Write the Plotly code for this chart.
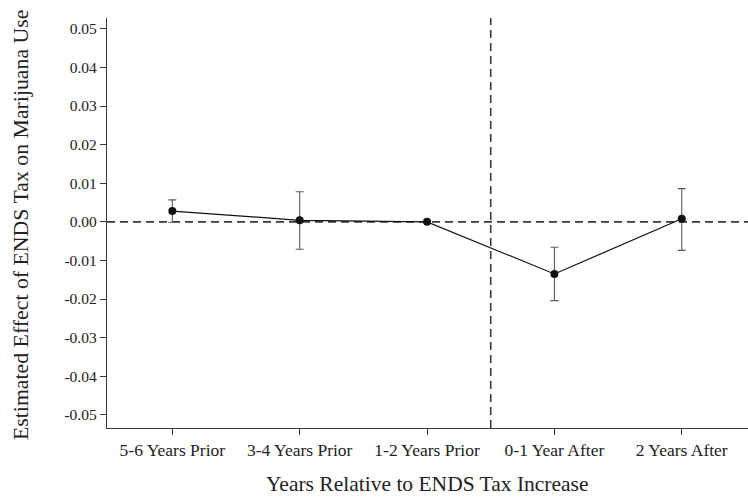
import plotly.graph_objects as go

# Event-study estimates: effect of ENDS tax increases on marijuana use
periods = ["5-6 Years Prior", "3-4 Years Prior", "1-2 Years Prior",
           "0-1 Year After", "2 Years After"]
estimates = [0.0028, 0.0004, 0.0, -0.0135, 0.0008]
ci_upper = [0.0057, 0.0078, 0.0, -0.0066, 0.0086]
ci_lower = [-0.0001, -0.0071, 0.0, -0.0204, -0.0074]
y_ticks = [0.05, 0.04, 0.03, 0.02, 0.01, 0.0, -0.01, -0.02, -0.03, -0.04, -0.05]

err_plus = [u - e for u, e in zip(ci_upper, estimates)]
err_minus = [e - l for e, l in zip(estimates, ci_lower)]
xpos = list(range(len(periods)))

FONT = "Liberation Serif"
AXIS_COLOR = "#3a3a3a"
TEXT_COLOR = "#222222"

fig = go.Figure()

# confidence intervals (reference period has none)
ci_idx = [i for i in xpos if err_plus[i] > 0 or err_minus[i] > 0]
fig.add_trace(go.Scatter(
    x=[xpos[i] for i in ci_idx],
    y=[estimates[i] for i in ci_idx],
    mode="markers",
    marker=dict(size=1, color="rgba(0,0,0,0)"),
    error_y=dict(type="data", symmetric=False,
                 array=[err_plus[i] for i in ci_idx],
                 arrayminus=[err_minus[i] for i in ci_idx],
                 color="#5a5a5a", thickness=1.1, width=4),
    showlegend=False, hoverinfo="skip",
))

# point estimates
fig.add_trace(go.Scatter(
    x=xpos, y=estimates, mode="lines+markers",
    line=dict(color="#111111", width=1.2),
    marker=dict(size=8, color="#111111"),
    showlegend=False,
))

# reference lines: zero effect and timing of the tax increase
fig.add_shape(type="line", xref="paper", yref="y", x0=0, x1=1, y0=0, y1=0,
              line=dict(color="#3a3a3a", width=1.6, dash="8px,5px"), layer="below")
fig.add_shape(type="line", xref="x", yref="paper", x0=2.5, x1=2.5, y0=0, y1=1,
              line=dict(color="#3a3a3a", width=1.6, dash="8px,5px"), layer="below")

fig.update_layout(
    width=748, height=499,
    margin=dict(l=107, r=0, t=18, b=71),
    paper_bgcolor="white", plot_bgcolor="white",
    font=dict(family=FONT, color=TEXT_COLOR, size=15),
    xaxis=dict(
        range=[-0.513, 4.52], tickmode="array", tickvals=xpos, ticktext=periods,
        showgrid=False, zeroline=False, showline=True, linecolor=AXIS_COLOR,
        linewidth=1.3, ticks="outside", ticklen=6, tickcolor=AXIS_COLOR,
        tickfont=dict(family=FONT, size=17.5, color=TEXT_COLOR),
    ),
    yaxis=dict(
        range=[-0.0534, 0.0528], tickmode="array", tickvals=y_ticks,
        ticktext=[f"{v:.2f}" if v != 0 else "0.00" for v in y_ticks],
        showgrid=False, zeroline=False, showline=True, linecolor=AXIS_COLOR,
        linewidth=1.3, ticks="outside", ticklen=6, tickcolor=AXIS_COLOR,
        tickfont=dict(family=FONT, size=15.5, color=TEXT_COLOR),
    ),
    annotations=[
        dict(text="Years Relative to ENDS Tax Increase", xref="paper", yref="paper",
             x=0.5, y=0, yshift=-56, showarrow=False, yanchor="middle",
             font=dict(family=FONT, size=21.5, color=TEXT_COLOR)),
        dict(text="Estimated Effect of ENDS Tax on Marijuana Use", xref="paper",
             yref="paper", x=0, xshift=-86, y=0.5, yshift=-2, textangle=-90,
             showarrow=False, xanchor="center",
             font=dict(family=FONT, size=21.8, color=TEXT_COLOR)),
    ],
)

fig.write_html("out.html")
